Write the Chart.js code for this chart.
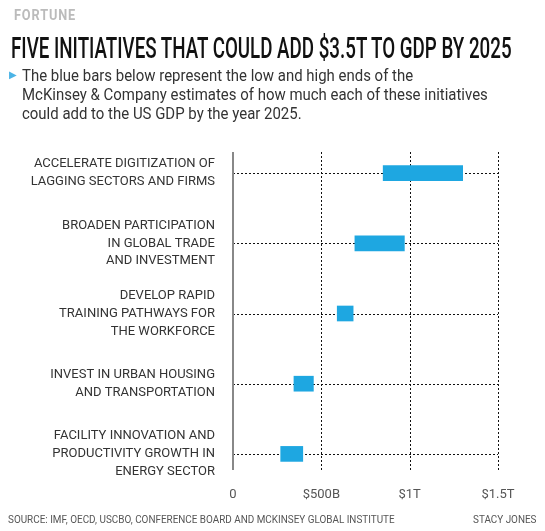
<!DOCTYPE html>
<html>
<head>
<meta charset="utf-8">
<script src="https://cdn.jsdelivr.net/npm/chart.js@4"></script>
<style>
  body { margin: 0; background: #fff; font-family: "Roboto", sans-serif; }
  #wrap { position: relative; width: 545px; height: 531px; overflow: hidden; }
  canvas { position: absolute; left: 0; top: 0; }
  .t { position: absolute; white-space: nowrap; transform-origin: left top; }
  #brand { left: 14px; top: 6px; font-size: 15px; font-weight: bold; color: #bbb; letter-spacing: 1px; transform: scaleX(0.85); }
  #title { left: 11px; top: 30px; font-size: 30px; font-weight: 500; color: #111; transform: scaleX(0.625); }
  #sub { left: 22px; top: 66px; font-size: 17px; line-height: 19px; color: #333; transform: scaleX(0.88); }
  #tri { left: 9px; top: 69px; font-size: 10px; color: #4bb4e6; }
  #src { left: 8px; top: 513px; font-size: 11px; color: #555; transform: scaleX(0.9); }
  #by { left: 473px; top: 513px; font-size: 11px; color: #555; transform: scaleX(0.9); }
</style>
</head>
<body>
<div id="wrap">
  <canvas id="c" width="545" height="531"></canvas>
  <div class="t" id="brand">FORTUNE</div>
  <div class="t" id="title">FIVE INITIATIVES THAT COULD ADD $3.5T TO GDP BY 2025</div>
  <div class="t" id="tri">&#9654;</div>
  <div class="t" id="sub">The blue bars below represent the low and high ends of the<br>McKinsey &amp; Company estimates of how much each of these initiatives<br>could add to the US GDP by the year 2025.</div>
  <div class="t" id="src">SOURCE: IMF, OECD, USCBO, CONFERENCE BOARD AND MCKINSEY GLOBAL INSTITUTE</div>
  <div class="t" id="by">STACY JONES</div>
</div>
<script>
const categories = [
  ["ACCELERATE DIGITIZATION OF", "LAGGING SECTORS AND FIRMS"],
  ["BROADEN PARTICIPATION", "IN GLOBAL TRADE", "AND INVESTMENT"],
  ["DEVELOP RAPID", "TRAINING PATHWAYS FOR", "THE WORKFORCE"],
  ["INVEST IN URBAN HOUSING", "AND TRANSPORTATION"],
  ["FACILITY INNOVATION AND", "PRODUCTIVITY GROWTH IN", "ENERGY SECTOR"]
];
// billions of dollars
const lowValues = [850, 690, 590, 345, 270];
const highValues = [1300, 970, 680, 455, 395];
const xTicks = [0, 500, 1000, 1500];
const xTickLabels = ["0", "$500B", "$1T", "$1.5T"];

const ranges = categories.map((c, i) => [lowValues[i], highValues[i]]);

// dotted grid + axis line, drawn from the chart's own scales
const gridPlugin = {
  id: "dottedGrid",
  beforeDatasetsDraw(chart) {
    const { ctx, chartArea: a, scales: { x, y } } = chart;
    const top = a.top + 14, bottom = a.bottom - 19;
    ctx.save();
    ctx.strokeStyle = "#111";
    ctx.lineWidth = 1;
    ctx.setLineDash([2, 2]);
    categories.forEach((c, i) => {
      const py = Math.round(y.getPixelForValue(i)) + 0.5;
      ctx.beginPath(); ctx.moveTo(a.left, py); ctx.lineTo(x.getPixelForValue(1500), py); ctx.stroke();
    });
    xTicks.slice(1).forEach((v) => {
      const px = Math.round(x.getPixelForValue(v)) + 0.5;
      ctx.beginPath(); ctx.moveTo(px, top); ctx.lineTo(px, bottom); ctx.stroke();
    });
    ctx.setLineDash([]);
    ctx.strokeStyle = "#888";
    ctx.lineWidth = 2;
    ctx.beginPath(); ctx.moveTo(a.left, top); ctx.lineTo(a.left, bottom); ctx.stroke();
    ctx.restore();
  }
};

new Chart(document.getElementById("c"), {
  type: "bar",
  data: {
    labels: categories,
    datasets: [{
      data: ranges,
      backgroundColor: "#1ea7e1",
      barThickness: 15,
      borderSkipped: false
    }]
  },
  options: {
    indexAxis: "y",
    responsive: false,
    animation: false,
    layout: { padding: { top: 138, right: 47, bottom: 0, left: 0 } },
    plugins: { legend: { display: false }, tooltip: { enabled: false } },
    scales: {
      x: {
        type: "linear",
        min: 0,
        max: 1500,
        afterBuildTicks: (s) => { s.ticks = xTicks.map((v) => ({ value: v })); },
        afterFit: (s) => { s.height = 42; },
        ticks: {
          callback: (v) => xTickLabels[xTicks.indexOf(v)],
          color: "#555",
          font: { family: "Roboto", size: 13 },
          padding: -10,
          maxRotation: 0
        },
        grid: { display: false },
        border: { display: false }
      },
      y: {
        offset: true,
        afterFit: (s) => { s.width = 233; },
        ticks: {
          color: "#333",
          font: { family: "Roboto", size: 13, lineHeight: 1.38 },
          padding: 10
        },
        grid: { display: false },
        border: { display: false }
      }
    }
  },
  plugins: [gridPlugin]
});
</script>
</body>
</html>
